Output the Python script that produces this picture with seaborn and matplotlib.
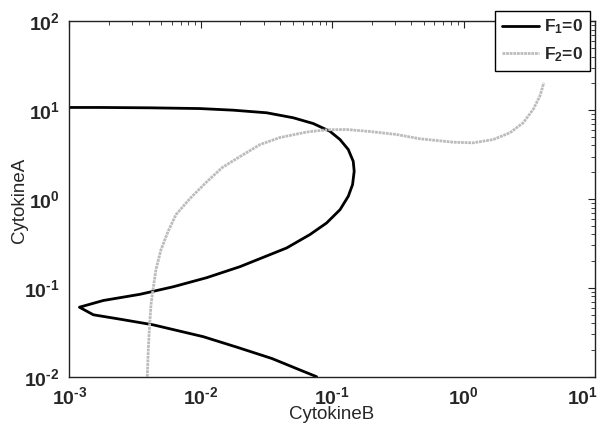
import numpy as np
import pandas as pd
import matplotlib
matplotlib.use("Agg")
import matplotlib.pyplot as plt
import seaborn as sns
from matplotlib.ticker import LogLocator, FuncFormatter, NullFormatter
from matplotlib.transforms import ScaledTranslation

# ---- data (CytokineB, CytokineA) ----
f1_b = [0.001, 0.00171, 0.00410, 0.00984, 0.01767, 0.0317, 0.0505, 0.0716,
        0.0959, 0.1146, 0.1324, 0.1445, 0.1469, 0.1428, 0.1324, 0.1146,
        0.0905, 0.0676, 0.0450, 0.01986, 0.01107, 0.00614, 0.00344, 0.00181,
        0.00119, 0.00152, 0.00242, 0.00434, 0.01042, 0.01914, 0.0348, 0.0568,
        0.0760]
f1_a = [10.7, 10.7, 10.6, 10.4, 9.97, 9.32, 8.19, 7.06,
        5.78, 4.66, 3.60, 2.65, 2.05, 1.45, 1.07, 0.757,
        0.536, 0.397, 0.281, 0.173, 0.130, 0.1026, 0.0845, 0.0720,
        0.0605, 0.0497, 0.0444, 0.0383, 0.0282, 0.0213, 0.0160, 0.0119,
        0.0100]

f2_b = [0.00391, 0.00398, 0.00405, 0.00417, 0.00432, 0.00455, 0.00497, 0.00562,
        0.00646, 0.00826, 0.01094, 0.0145, 0.01986, 0.0282, 0.0400, 0.0638,
        0.0905, 0.129, 0.194, 0.309, 0.465, 0.834, 1.18, 1.68, 2.25, 2.84,
        3.39, 3.81, 4.08]
f2_a = [0.0100, 0.0200, 0.0336, 0.0643, 0.0949, 0.160, 0.268, 0.428,
        0.665, 1.01, 1.53, 2.25, 3.00, 4.09, 4.91, 5.66,
        6.00, 6.04, 5.74, 5.31, 4.75, 4.35, 4.28, 4.66, 5.55, 7.19,
        10.2, 14.4, 20.3]

labels = ["$\\mathbf{F_1}$=0", "$\\mathbf{F_2}$=0"]
x_label = "CytokineB"
y_label = "CytokineA"

df1 = pd.DataFrame({"B": f1_b, "A": f1_a})
df2 = pd.DataFrame({"B": f2_b, "A": f2_a})

sns.set_style("white")
plt.rcParams["font.family"] = ["Liberation Sans", "DejaVu Sans"]
plt.rcParams["mathtext.fontset"] = "custom"
plt.rcParams["mathtext.rm"] = "Liberation Sans"
plt.rcParams["mathtext.bf"] = "Liberation Sans:bold"
plt.rcParams["mathtext.it"] = "Liberation Sans:italic"

fig = plt.figure(figsize=(6.09, 4.24), dpi=100)
ax = fig.add_axes([0.1141, 0.1116, 0.8629, 0.8384])

sns.lineplot(data=df1, x="B", y="A", sort=False, estimator=None,
             color="black", lw=2.0, ax=ax, label=labels[0])
sns.lineplot(data=df2, x="B", y="A", sort=False, estimator=None,
             color="#bcbcbc", lw=2.0, ax=ax, label=labels[1],
             linestyle=(0, (1.0, 0.3)))

ax.set_xscale("log")
ax.set_yscale("log")
ax.set_xlim(1e-3, 1e1)
ax.set_ylim(1e-2, 1e2)

def fmt(v, pos):
    e = int(round(np.log10(v)))
    s = str(e).replace("-", "\u2010")
    return r"$\mathbf{10^{%s}}$" % s

for axis in (ax.xaxis, ax.yaxis):
    axis.set_major_locator(LogLocator(base=10, numticks=10))
    axis.set_minor_locator(LogLocator(base=10, subs=np.arange(2, 10), numticks=10))
    axis.set_major_formatter(FuncFormatter(fmt))
    axis.set_minor_formatter(NullFormatter())

ax.tick_params(which="both", direction="in", top=True, right=True,
               labelsize=14, color="#222222")
ax.tick_params(which="major", length=5, width=0.8, pad=7)
ax.tick_params(which="minor", length=3, width=0.6)
for s in ax.spines.values():
    s.set_color("#222222")
    s.set_linewidth(1.0)

ax.set_xlabel(x_label, fontsize=13.5)
ax.set_ylabel(y_label, fontsize=13.5)
ax.xaxis.set_label_coords(0.498, -0.083)
ax.yaxis.set_label_coords(-0.079, 0.497)

leg = ax.legend(loc="upper right", bbox_to_anchor=(0.9905, 1.0295),
                fontsize=12.5, frameon=True, fancybox=False,
                framealpha=1, edgecolor="black", handlelength=2.1,
                borderpad=0.4, labelspacing=0.5, handletextpad=0.3,
                borderaxespad=0.0)
leg.get_frame().set_linewidth(1.0)
for t in leg.get_texts():
    t.set_fontweight("bold")

fig.canvas.draw()
last = ax.xaxis.get_major_ticks()
vis = [t for t in last if 1e-3 <= t.get_loc() <= 1e1]
lbl = vis[-1].label1
lbl.set_transform(lbl.get_transform() + ScaledTranslation(-9 / 72, 0, fig.dpi_scale_trans))

fig.savefig("out.png", dpi=100)
